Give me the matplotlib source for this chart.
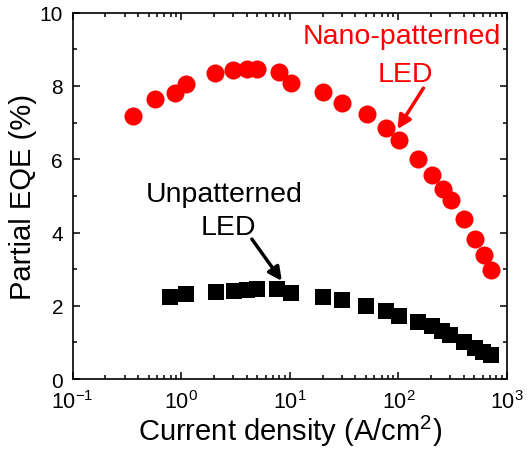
import numpy as np
import matplotlib
matplotlib.use("Agg")
import matplotlib.pyplot as plt
from matplotlib.ticker import MultipleLocator, LogLocator, NullFormatter

plt.rcParams['font.family'] = ['Liberation Sans', 'DejaVu Sans']
plt.rcParams['mathtext.fontset'] = 'custom'
plt.rcParams['mathtext.rm'] = 'Liberation Sans'

# nano-patterned LED
j_nano = [0.36, 0.57, 0.87, 1.1, 2.05, 3.0, 4.0, 5.0, 7.9, 10.2, 20, 30, 51,
          77, 101, 151, 204, 255, 305, 406, 507, 608, 717]
eqe_nano = [7.18, 7.64, 7.80, 8.06, 8.34, 8.42, 8.45, 8.47, 8.39, 8.09, 7.82,
            7.52, 7.23, 6.84, 6.52, 6.00, 5.56, 5.20, 4.88, 4.36, 3.82, 3.39, 2.98]

# unpatterned LED
j_flat = [0.79, 1.1, 2.09, 3.08, 4.07, 5.03, 7.6, 10.3, 20.4, 30.3, 50.5, 76.7,
          101.7, 151, 202, 253, 300, 404, 510, 606, 713]
eqe_flat = [2.23, 2.32, 2.38, 2.41, 2.43, 2.45, 2.45, 2.35, 2.23, 2.15, 2.00,
            1.85, 1.73, 1.57, 1.44, 1.32, 1.20, 1.02, 0.86, 0.73, 0.65]

fig = plt.figure(figsize=(5.27, 4.52), dpi=100)
ax = fig.add_axes([0.138, 0.159, 0.824, 0.811])

ax.plot(j_nano, eqe_nano, 'o', color='red', markersize=13, markeredgewidth=0)
ax.plot(j_flat, eqe_flat, 's', color='black', markersize=11.5, markeredgewidth=0)

ax.set_xscale('log')
ax.set_xlim(0.1, 1000)
ax.set_ylim(0, 10)
ax.yaxis.set_major_locator(MultipleLocator(2))
ax.yaxis.set_minor_locator(MultipleLocator(1))
ax.xaxis.set_major_locator(LogLocator(base=10, numticks=10))
ax.xaxis.set_minor_locator(LogLocator(base=10, subs=np.arange(2, 10), numticks=20))
ax.xaxis.set_minor_formatter(NullFormatter())

ax.tick_params(which='both', direction='in', top=True, right=True, width=1.1)
ax.tick_params(which='major', length=5)
ax.tick_params(axis='x', which='major', pad=8, labelsize=15.5)
ax.tick_params(axis='y', which='major', pad=7, labelsize=15)
ax.tick_params(which='minor', length=3)
for s in ax.spines.values():
    s.set_linewidth(1.2)

ax.set_xlabel('Current density (A/cm$^2$)', fontsize=21, labelpad=0)
ax.set_ylabel('Partial EQE (%)', fontsize=21, labelpad=2)

# labels and arrows
ax.text(108, 9.35, 'Nano-patterned', color='red', fontsize=20.5,
        ha='center', va='center')
ax.text(117, 8.32, 'LED', color='red', fontsize=20.5, ha='center', va='center')
ax.annotate('', xy=(98, 6.82), xytext=(170, 7.94),
            arrowprops=dict(arrowstyle='-|>', color='red', lw=2.5,
                            mutation_scale=20, shrinkA=0, shrinkB=0))

ax.text(2.48, 5.05, 'Unpatterned', color='black', fontsize=20.5,
        ha='center', va='center')
ax.text(2.70, 4.15, 'LED', color='black', fontsize=20.5, ha='center', va='center')
ax.annotate('', xy=(8.44, 2.68), xytext=(4.47, 3.82),
            arrowprops=dict(arrowstyle='-|>', color='black', lw=2.5,
                            mutation_scale=20, shrinkA=0, shrinkB=0))

fig.savefig('out.png', dpi=100)
